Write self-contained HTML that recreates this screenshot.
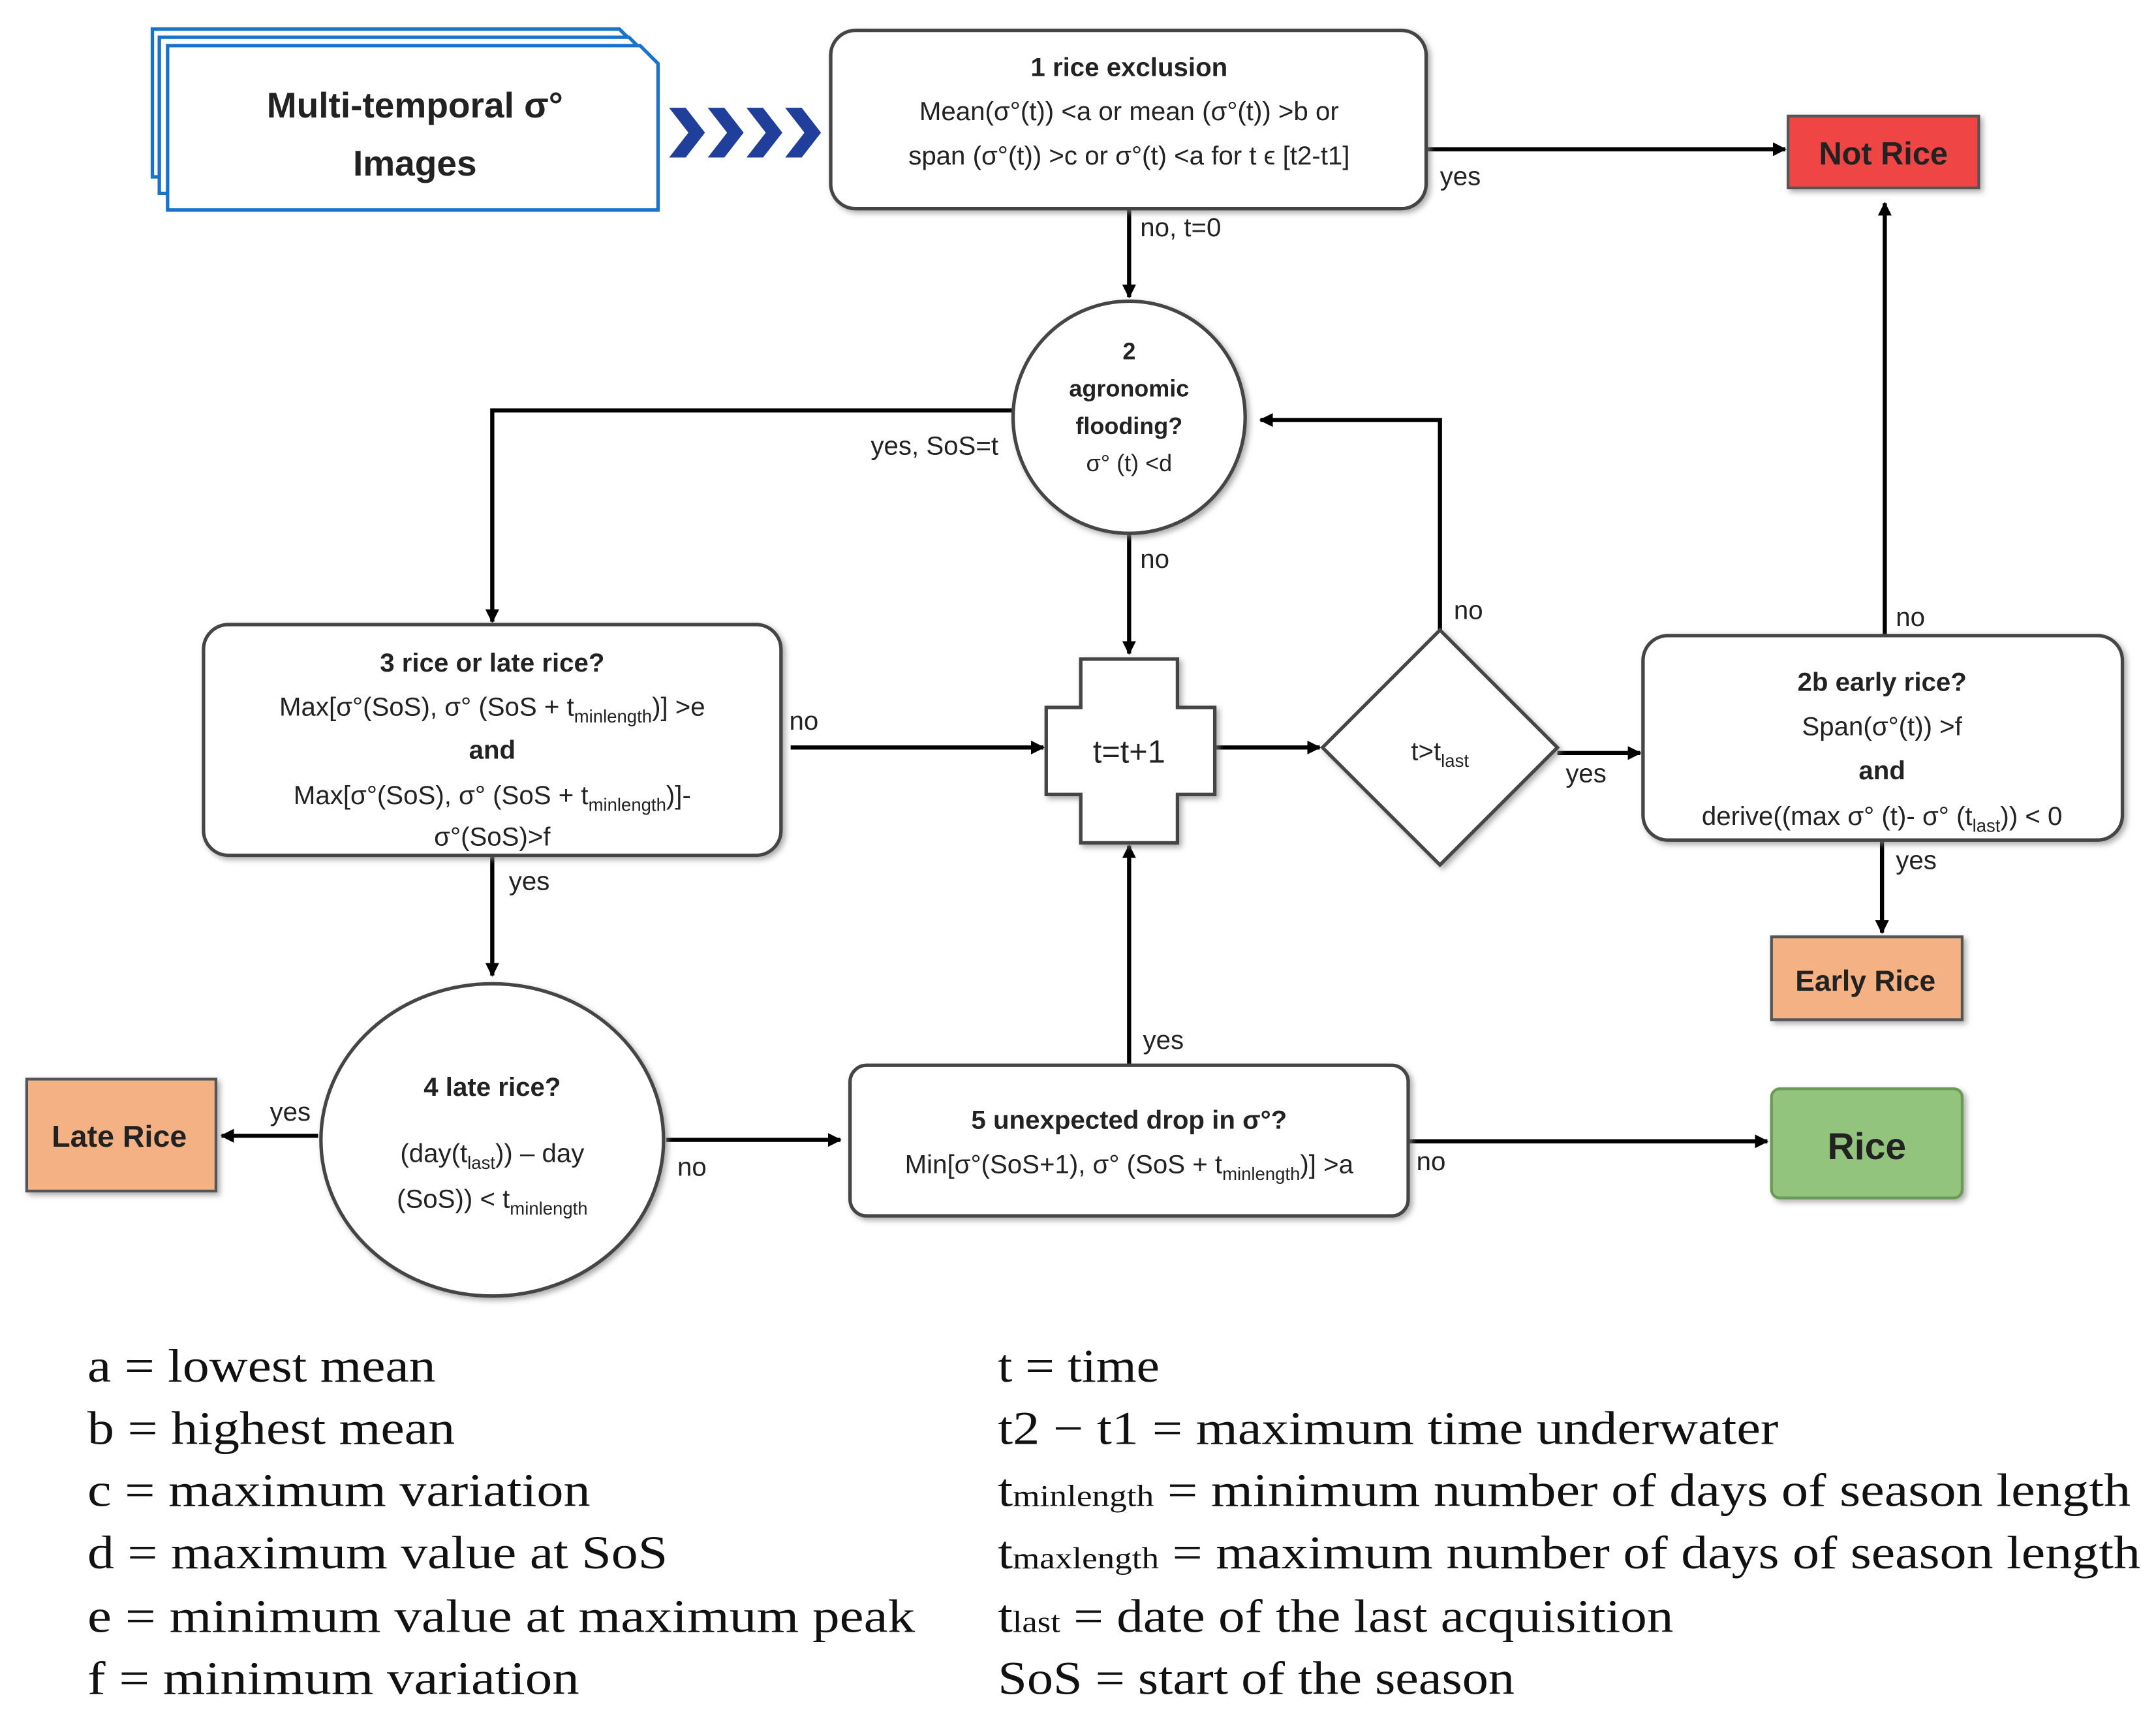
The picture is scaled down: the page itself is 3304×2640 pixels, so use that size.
<!DOCTYPE html>
<html><head><meta charset="utf-8"><style>
html,body{margin:0;padding:0;background:#fff;}
svg{display:block;}
.f{font-family:"Liberation Sans",sans-serif;fill:#222;}
.s{font-family:"Liberation Serif",serif;fill:#111;font-size:34px;}
</style></head><body>
<svg width="3304" height="2640" viewBox="0 0 1560 1247" xmlns="http://www.w3.org/2000/svg">
<defs>
<marker id="a" markerWidth="10" markerHeight="10" refX="9" refY="5" orient="auto" markerUnits="userSpaceOnUse"><path d="M0,0 L10,5 L0,10 z" fill="#000"/></marker>
<filter id="sh" x="-10%" y="-10%" width="130%" height="130%"><feDropShadow dx="2" dy="2" stdDeviation="2" flood-color="#888" flood-opacity="0.7"/></filter>
</defs>
<rect width="1560" height="1247" fill="#fff"/>
<g fill="#fff" stroke="#1a73c8" stroke-width="2.5">
<path d="M110,21 H448 L460,33 V128 H110 Z"/>
<path d="M115,27 H455 L468,40 V140 H115 Z"/>
<path d="M121,33 H463 L476,46 V152 H121 Z"/>
</g>
<text class="f" x="300" y="85" font-size="26" font-weight="bold" text-anchor="middle">Multi-temporal  σ°</text>
<text class="f" x="300" y="127" font-size="26" font-weight="bold" text-anchor="middle">Images</text>
<g fill="#1f3f9a">
<path d="M484,78 h12 l14,18 l-14,18 h-12 l14,-18z"/>
<path d="M512,78 h12 l14,18 l-14,18 h-12 l14,-18z"/>
<path d="M540,78 h12 l14,18 l-14,18 h-12 l14,-18z"/>
<path d="M568,78 h12 l14,18 l-14,18 h-12 l14,-18z"/>
</g>
<g stroke="#000" stroke-width="3" fill="none">
<path d="M1032,108 H1292" marker-end="url(#a)"/>
<path d="M817,151 V215" marker-end="url(#a)"/>
<path d="M735,297 H356 V450" marker-end="url(#a)"/>
<path d="M817,386 V473" marker-end="url(#a)"/>
<path d="M572,541 H755" marker-end="url(#a)"/>
<path d="M879,541 H955" marker-end="url(#a)"/>
<path d="M1042,456 V304 H912" marker-end="url(#a)"/>
<path d="M1127,545 H1187" marker-end="url(#a)"/>
<path d="M1364,460 V147" marker-end="url(#a)"/>
<path d="M1362,608 V675" marker-end="url(#a)"/>
<path d="M356,619 V706" marker-end="url(#a)"/>
<path d="M230,822 H160" marker-end="url(#a)"/>
<path d="M482,825 H608" marker-end="url(#a)"/>
<path d="M817,771 V612" marker-end="url(#a)"/>
<path d="M1019,826 H1279" marker-end="url(#a)"/>
</g>
<g fill="#fff" stroke="#444" stroke-width="2.5" filter="url(#sh)">
<rect x="601" y="22" width="431" height="129" rx="18"/>
<circle cx="817" cy="302" r="84"/>
<path d="M782,477 H852 V512 H879 V575 H852 V610 H782 V575 H757 V512 H782 Z"/>
<rect x="147" y="452" width="418" height="167" rx="18"/>
<path d="M1042,456 L1127,541 L1042,626 L957,541 Z"/>
<rect x="1189" y="460" width="347" height="148" rx="18"/>
<ellipse cx="356" cy="825" rx="124" ry="113"/>
<rect x="615" y="771" width="404" height="109" rx="12"/>
</g>
<rect x="1294" y="84" width="138" height="52" fill="#ef4444" stroke="#555" stroke-width="2" filter="url(#sh)"/>
<rect x="1282" y="678" width="138" height="60" fill="#f4b183" stroke="#555" stroke-width="2" filter="url(#sh)"/>
<rect x="19" y="781" width="137" height="81" fill="#f4b183" stroke="#555" stroke-width="2" filter="url(#sh)"/>
<rect x="1282" y="788" width="138" height="79" rx="6" fill="#93c47d" stroke="#6a9a55" stroke-width="2" filter="url(#sh)"/>
<g class="f" font-weight="bold" text-anchor="middle">
<text x="1363" y="119" font-size="23">Not Rice</text>
<text x="1350" y="717" font-size="21">Early Rice</text>
<text x="86" y="830" font-size="22">Late Rice</text>
<text x="1351" y="839" font-size="27">Rice</text>
</g>
<g class="f" text-anchor="middle" font-size="19">
<text x="817" y="55" font-weight="bold">1 rice exclusion</text>
<text x="817" y="87">Mean(σ°(t)) &lt;a or mean (σ°(t)) &gt;b or</text>
<text x="817" y="119">span (σ°(t)) &gt;c or σ°(t) &lt;a for t ϵ [t2-t1]</text>
<text x="817" y="260" font-size="17" font-weight="bold">2</text>
<text x="817" y="287" font-size="17" font-weight="bold">agronomic</text>
<text x="817" y="314" font-size="17" font-weight="bold">flooding?</text>
<text x="817" y="341" font-size="17">σ° (t) &lt;d</text>
<text x="817" y="552" font-size="23">t=t+1</text>
<text x="1042" y="550" font-size="19">t&gt;t<tspan font-size="13" dy="5">last</tspan></text>
<text x="356" y="486" font-weight="bold">3 rice or late rice?</text>
<text x="356" y="518">Max[σ°(SoS), σ° (SoS + t<tspan font-size="13" dy="5">minlength</tspan><tspan dy="-5">)] &gt;e</tspan></text>
<text x="356" y="549" font-weight="bold">and</text>
<text x="356" y="582">Max[σ°(SoS), σ° (SoS + t<tspan font-size="13" dy="5">minlength</tspan><tspan dy="-5">)]-</tspan></text>
<text x="356" y="612">σ°(SoS)&gt;f</text>
<text x="1362" y="500" font-weight="bold">2b early rice?</text>
<text x="1362" y="532">Span(σ°(t)) &gt;f</text>
<text x="1362" y="564" font-weight="bold">and</text>
<text x="1362" y="597">derive((max σ° (t)- σ° (t<tspan font-size="13" dy="5">last</tspan><tspan dy="-5">)) &lt; 0</tspan></text>
<text x="356" y="793" font-weight="bold">4 late rice?</text>
<text x="356" y="841">(day(t<tspan font-size="13" dy="5">last</tspan><tspan dy="-5">)) – day</tspan></text>
<text x="356" y="874">(SoS)) &lt; t<tspan font-size="13" dy="5">minlength</tspan></text>
<text x="817" y="817" font-weight="bold">5 unexpected drop in σ°?</text>
<text x="817" y="849">Min[σ°(SoS+1), σ° (SoS + t<tspan font-size="13" dy="5">minlength</tspan><tspan dy="-5">)] &gt;a</tspan></text>
</g>
<g class="f" font-size="19">
<text x="1042" y="134">yes</text>
<text x="825" y="171">no, t=0</text>
<text x="630" y="329">yes, SoS=t</text>
<text x="825" y="411">no</text>
<text x="571" y="528">no</text>
<text x="1052" y="448">no</text>
<text x="1133" y="566">yes</text>
<text x="1372" y="453">no</text>
<text x="1372" y="629">yes</text>
<text x="368" y="644">yes</text>
<text x="195" y="811">yes</text>
<text x="490" y="851">no</text>
<text x="827" y="759">yes</text>
<text x="1025" y="847">no</text>
</g>
<g class="s">
<text x="63" y="1000" textLength="252" lengthAdjust="spacingAndGlyphs">a = lowest mean</text>
<text x="63" y="1045" textLength="266" lengthAdjust="spacingAndGlyphs">b = highest mean</text>
<text x="63" y="1090" textLength="364" lengthAdjust="spacingAndGlyphs">c = maximum variation</text>
<text x="63" y="1135" textLength="420" lengthAdjust="spacingAndGlyphs">d = maximum value at SoS</text>
<text x="63" y="1181" textLength="599" lengthAdjust="spacingAndGlyphs">e = minimum value at maximum peak</text>
<text x="63" y="1226" textLength="356" lengthAdjust="spacingAndGlyphs">f = minimum variation</text>
<text x="722" y="1000" textLength="117" lengthAdjust="spacingAndGlyphs">t = time</text>
<text x="722" y="1045" textLength="565" lengthAdjust="spacingAndGlyphs">t2 − t1 = maximum time underwater</text>
<text x="722" y="1090" textLength="820" lengthAdjust="spacingAndGlyphs">t<tspan font-size="22">minlength</tspan> = minimum number of days of season length</text>
<text x="722" y="1135" textLength="827" lengthAdjust="spacingAndGlyphs">t<tspan font-size="22">maxlength</tspan> = maximum number of days of season length</text>
<text x="722" y="1181" textLength="489" lengthAdjust="spacingAndGlyphs">t<tspan font-size="22">last</tspan> = date of the last acquisition</text>
<text x="722" y="1226" textLength="374" lengthAdjust="spacingAndGlyphs">SoS = start of the season</text>
</g>
</svg>
</body></html>
